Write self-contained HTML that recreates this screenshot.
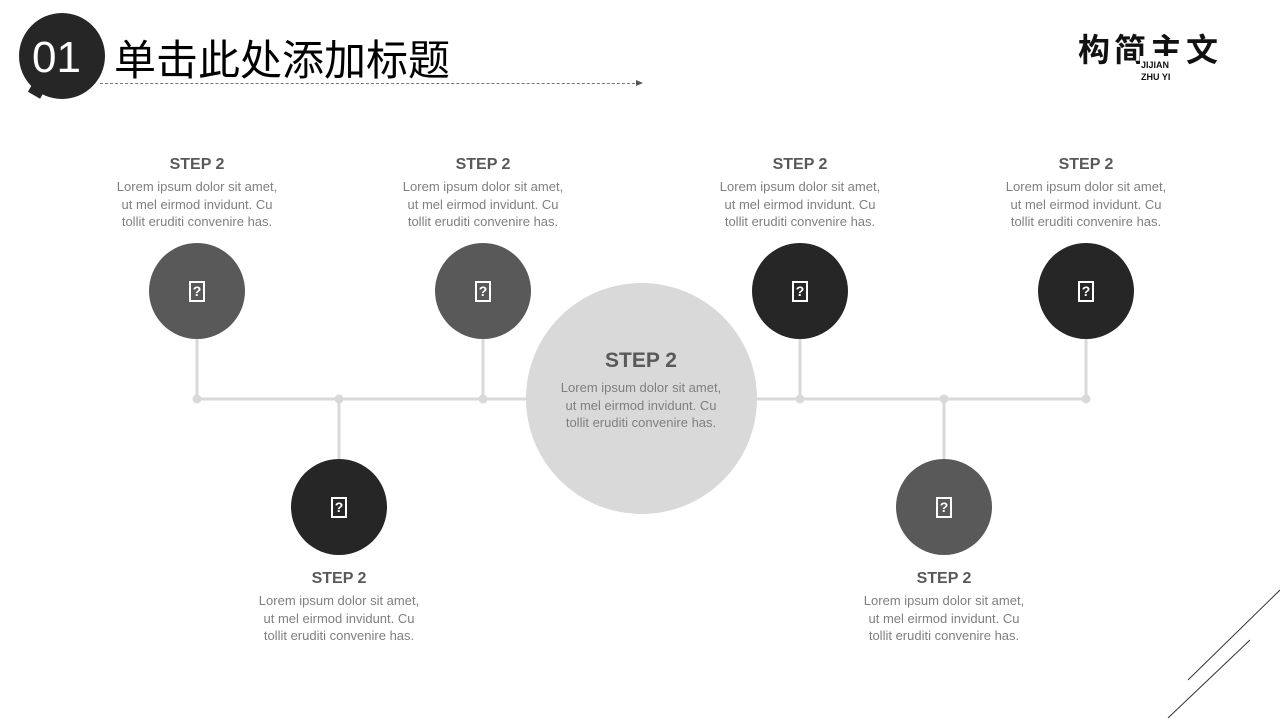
<!DOCTYPE html>
<html><head><meta charset="utf-8"><style>
body{margin:0;width:1280px;height:720px;background:#fff;position:relative;overflow:hidden;font-family:"Liberation Sans","Noto Sans CJK SC",sans-serif}
.a{position:absolute}
.c{position:absolute;border-radius:50%;display:flex;align-items:center;justify-content:center}
.c i{display:block;width:16px;height:21px;border:2px solid #fff;box-sizing:border-box;color:#fff;font-style:normal;font-size:14px;line-height:17px;text-align:center;font-weight:bold}
.t{position:absolute;width:220px;text-align:center;color:#7f7f7f;font-size:13px;line-height:17.5px;letter-spacing:0}
.t b{display:block;color:#595959;font-size:16px;line-height:20px;margin-bottom:3px;letter-spacing:0}
</style></head><body>
<div class="a" style="left:19px;top:13px;width:86px;height:86px;border-radius:50%;background:#262626"></div>
<div class="a" style="left:30px;top:84px;width:14px;height:12px;background:#262626;transform:rotate(30deg)"></div>
<div class="a" style="left:32px;top:30px;color:#fff;font-size:44px;line-height:56px">01</div>
<div class="a" style="left:114px;top:30px;color:#000;font-size:42px;line-height:56px;font-family:'Noto Sans CJK SC',sans-serif">单击此处添加标题</div>
<div class="a" style="left:100px;top:83px;width:535px;border-top:1px dashed #777"></div>
<div class="a" style="left:636px;top:80px;width:0;height:0;border-left:7px solid #555;border-top:3.5px solid transparent;border-bottom:3.5px solid transparent"></div>
<div class="a" style="left:1078px;top:28px;font-size:32px;font-weight:bold;color:#111;font-family:'Noto Sans CJK SC',sans-serif;letter-spacing:4px;line-height:40px">构简主文</div>
<div class="a" style="left:1140px;top:56px;width:45px;height:28px;background:#fff"></div>
<div class="a" style="left:1141px;top:59px;font-size:9px;font-weight:bold;color:#111;line-height:12px">JIJIAN<br>ZHU YI</div>
<svg class="a" style="left:0;top:0" width="1280" height="720">
<g stroke="#d9d9d9" stroke-width="3" fill="#d9d9d9">
<line x1="197" y1="399" x2="1086" y2="399"/>
<line x1="197" y1="330" x2="197" y2="399"/><line x1="483" y1="330" x2="483" y2="399"/>
<line x1="800" y1="330" x2="800" y2="399"/><line x1="1086" y1="330" x2="1086" y2="399"/>
<line x1="339" y1="399" x2="339" y2="470"/><line x1="944" y1="399" x2="944" y2="470"/>
<circle cx="197" cy="399" r="3"/><circle cx="339" cy="399" r="3"/><circle cx="483" cy="399" r="3"/>
<circle cx="800" cy="399" r="3"/><circle cx="944" cy="399" r="3"/><circle cx="1086" cy="399" r="3"/>
</g>
<g stroke="#333" stroke-width="1"><line x1="1188" y1="680" x2="1280" y2="590"/><line x1="1168" y1="718" x2="1250" y2="640"/></g>
</svg>
<div class="c" style="left:526px;top:283px;width:231px;height:231px;background:#d9d9d9"></div>
<div class="t" style="left:531px;top:348px"><b style="font-size:21px;line-height:26px;margin-bottom:5px">STEP 2</b>Lorem ipsum dolor sit amet,<br>ut mel eirmod invidunt. Cu<br>tollit eruditi convenire has.</div>
<div class="c" style="left:149px;top:243px;width:96px;height:96px;background:#595959"><i>?</i></div>
<div class="c" style="left:435px;top:243px;width:96px;height:96px;background:#595959"><i>?</i></div>
<div class="c" style="left:752px;top:243px;width:96px;height:96px;background:#262626"><i>?</i></div>
<div class="c" style="left:1038px;top:243px;width:96px;height:96px;background:#262626"><i>?</i></div>
<div class="c" style="left:291px;top:459px;width:96px;height:96px;background:#262626"><i>?</i></div>
<div class="c" style="left:896px;top:459px;width:96px;height:96px;background:#595959"><i>?</i></div>
<div class="t" style="left:87px;top:155px"><b>STEP 2</b>Lorem ipsum dolor sit amet,<br>ut mel eirmod invidunt. Cu<br>tollit eruditi convenire has.</div>
<div class="t" style="left:373px;top:155px"><b>STEP 2</b>Lorem ipsum dolor sit amet,<br>ut mel eirmod invidunt. Cu<br>tollit eruditi convenire has.</div>
<div class="t" style="left:690px;top:155px"><b>STEP 2</b>Lorem ipsum dolor sit amet,<br>ut mel eirmod invidunt. Cu<br>tollit eruditi convenire has.</div>
<div class="t" style="left:976px;top:155px"><b>STEP 2</b>Lorem ipsum dolor sit amet,<br>ut mel eirmod invidunt. Cu<br>tollit eruditi convenire has.</div>
<div class="t" style="left:229px;top:569px"><b>STEP 2</b>Lorem ipsum dolor sit amet,<br>ut mel eirmod invidunt. Cu<br>tollit eruditi convenire has.</div>
<div class="t" style="left:834px;top:569px"><b>STEP 2</b>Lorem ipsum dolor sit amet,<br>ut mel eirmod invidunt. Cu<br>tollit eruditi convenire has.</div>
</body></html>
